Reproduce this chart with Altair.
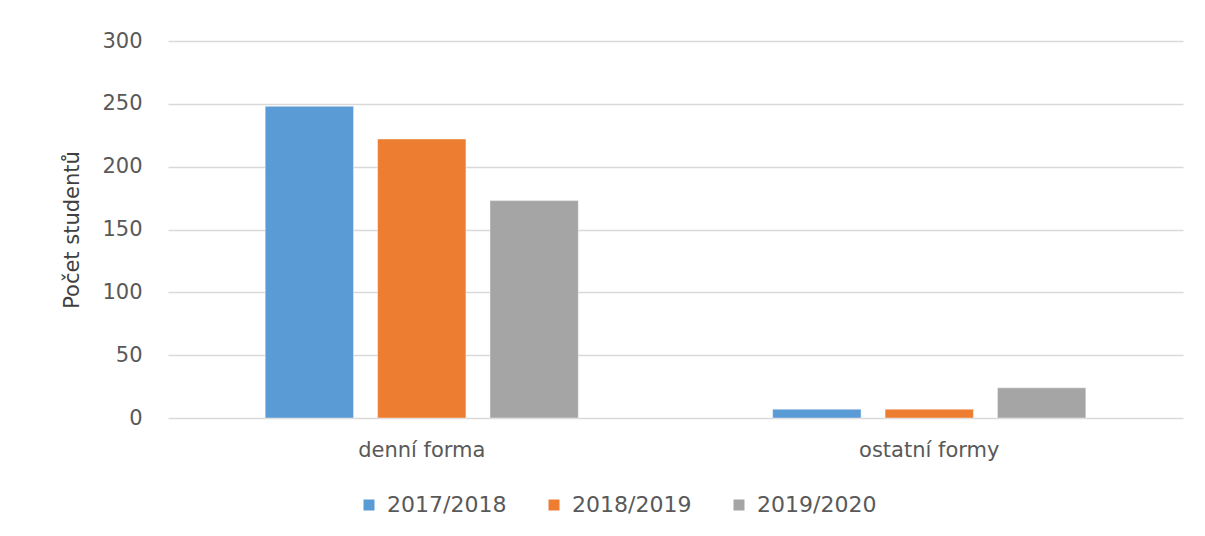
import altair as alt
import pandas as pd

categories = ["denní forma", "ostatní formy"]
years = ["2017/2018", "2018/2019", "2019/2020"]
values_2017 = [248, 7]
values_2018 = [222, 7]
values_2019 = [173, 24]
colors = ["#5B9BD5", "#ED7D31", "#A5A5A5"]

rows = []
for yr, vals in zip(years, [values_2017, values_2018, values_2019]):
    for cat, v in zip(categories, vals):
        rows.append({"forma": cat, "rok": yr, "pocet": v})
df = pd.DataFrame(rows)

FONT = "DejaVu Sans"

chart = alt.Chart(df).mark_bar(stroke="white", strokeOpacity=0.4, strokeWidth=1).encode(
    x=alt.X("forma:N", sort=categories,
            scale=alt.Scale(paddingInner=0.383, paddingOuter=0.1915),
            axis=alt.Axis(title=None, labelAngle=0, domain=False, ticks=False,
                          labelPadding=21, labelFontSize=21, labelColor="#595959",
                          labelFont=FONT)),
    xOffset=alt.XOffset("rok:N", sort=years,
                        scale=alt.Scale(paddingInner=0.214, paddingOuter=0)),
    y=alt.Y("pocet:Q", scale=alt.Scale(domain=[0, 300], nice=False),
            axis=alt.Axis(title="Počet studentů", values=[0, 50, 100, 150, 200, 250, 300],
                          domain=False, ticks=False, labelPadding=26,
                          labelFontSize=21, labelColor="#595959", labelFont=FONT,
                          titleFontSize=21, titleColor="#404040", titleFont=FONT,
                          titleFontWeight="normal", titlePadding=19,
                          gridColor="#D9D9D9", gridWidth=1.5)),
    color=alt.Color("rok:N", sort=years,
                    scale=alt.Scale(domain=years, range=colors),
                    legend=alt.Legend(title=None, orient="none", direction="horizontal",
                                      legendX=190, legendY=453,
                                      symbolType="square", symbolSize=121,
                                      symbolStrokeWidth=0,
                                      labelFontSize=22, labelColor="#595959",
                                      labelFont=FONT, columnPadding=36,
                                      labelOffset=7)),
).properties(
    width=1015, height=377,
    autosize=alt.AutoSizeParams(type="none"),
    padding={"left": 160, "top": 33, "right": 14, "bottom": 110},
).configure(background="white").configure_view(stroke=None)

chart.save("out.html", embed_options={"renderer": "svg", "actions": False})
